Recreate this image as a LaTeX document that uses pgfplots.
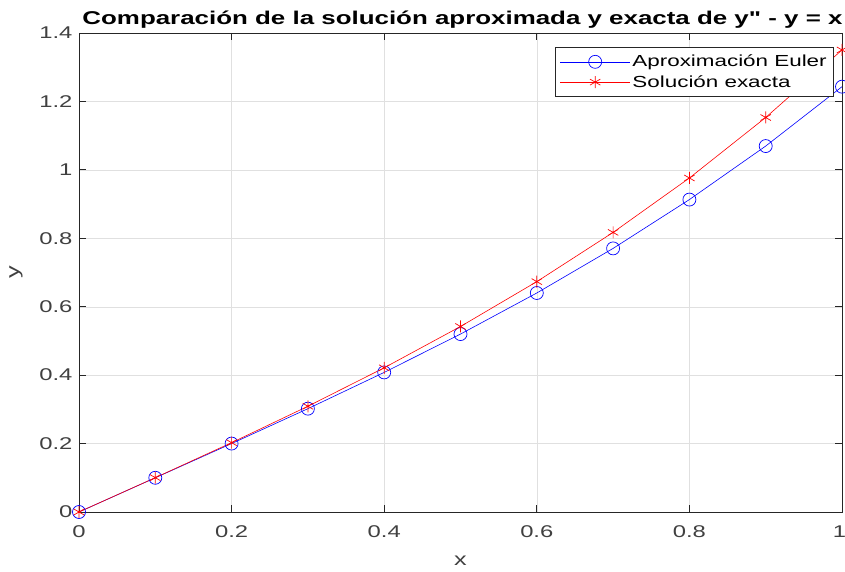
\documentclass[border=0pt]{standalone}
\usepackage{pgfplots}
\pgfplotsset{compat=1.18}
\usepackage{fontspec}
\setmainfont{Liberation Sans}[FakeStretch=1.4]
\newfontfamily\titlefont{Liberation Sans}[FakeStretch=1.4]
\definecolor{axgray}{RGB}{38,38,38}
\definecolor{lblgray}{RGB}{64,64,64}
\begin{document}
\begin{tikzpicture}[x=1pt,y=1pt]
\begin{axis}[
  at={(79pt,60pt)}, anchor=south west,
  scale only axis, width=763pt, height=479pt,
  xmin=0, xmax=1, ymin=0, ymax=1.4,
  xtick={0,0.2,...,1}, ytick={0,0.2,...,1.4},
  xticklabels={0,0.2,0.4,0.6,0.8,\makebox[0pt]{\kern-5pt 1}},
  yticklabels={0,0.2,0.4,0.6,0.8,1,1.2,1.4},
  grid=major, major grid style={draw=black!12},
  tick align=inside, tick pos=both, major tick length=7pt,
  axis line style={draw=axgray, line width=0.8pt},
  every tick/.style={draw=axgray, line width=0.8pt},
  tick label style={font=\fontsize{17}{19}\selectfont, text=lblgray},
  xticklabel style={yshift=-10pt},
  yticklabel style={xshift=-3pt},
  /pgf/number format/assume math mode=true,
  xlabel={x}, ylabel={y},
  xlabel style={font=\fontsize{18}{20}\selectfont, text=lblgray, yshift=-12pt},
  ylabel style={font=\fontsize{18}{20}\selectfont, text=lblgray, yshift=10pt},
  title={\titlefont\bfseries Comparación de la solución aproximada y exacta de y" - y = x},
  title style={font=\fontsize{18.5}{21}\selectfont, text=black, yshift=-5pt, xshift=2pt},
  legend style={font=\fontsize{16}{19}\selectfont, draw=axgray, line width=0.6pt, at={(0.9895,0.971)}, anchor=north east, inner xsep=5pt, inner ysep=6pt, row sep=3pt},
  legend cell align=left,
  legend image code/.code={\draw[mark repeat=2, mark phase=2, #1] plot coordinates {(0pt,0pt) (35pt,0pt) (70pt,0pt)};},
  /tikz/every even column/.append style={column sep=4pt},
]
\addplot[color=blue, line width=0.6pt, mark=o, mark size=6.5pt, mark options={line width=0.7pt}] coordinates {
(0,0) (0.1,0.1) (0.2,0.2) (0.3,0.302) (0.4,0.408) (0.5,0.52002) (0.6,0.64012) (0.7,0.77042) (0.8,0.913122) (0.9,1.069528) (1.0,1.243065)};
\addlegendentry{Aproximación Euler}
\addplot[color=red, line width=0.6pt, mark=asterisk, mark size=6pt, mark options={line width=0.7pt}] coordinates {
(0,0) (0.1,0.100334) (0.2,0.202672) (0.3,0.309040) (0.4,0.421504) (0.5,0.542191) (0.6,0.673307) (0.7,0.817167) (0.8,0.976212) (0.9,1.153034) (1.0,1.350402)};
\addlegendentry{Solución exacta}
\end{axis}
\pgfresetboundingbox
\path[use as bounding box] (0,0) rectangle (845,572);
\end{tikzpicture}
\end{document}
